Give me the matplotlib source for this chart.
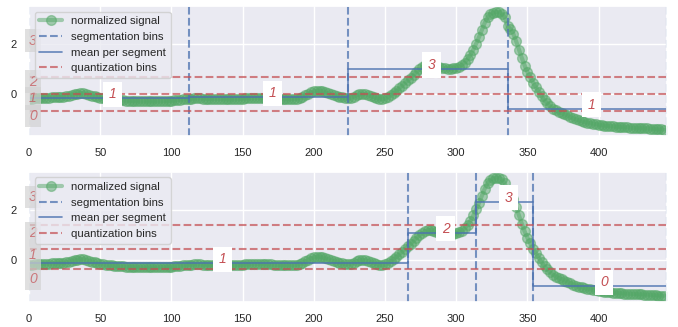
import numpy as np
import matplotlib
matplotlib.use("Agg")
import matplotlib.pyplot as plt
import seaborn as sns

# ---------------- data ----------------
n_samples = 448
sample_step = 2
signal = [
    -0.20, -0.19, -0.18, -0.17, -0.16, -0.16, -0.15, -0.15, -0.14, -0.14,   # 0-18
    -0.13, -0.13, -0.12, -0.10, -0.07, -0.05, -0.02, 0.01, 0.03, 0.03,      # 20-38
    0.01, -0.03, -0.07, -0.10, -0.13, -0.16, -0.18, -0.20, -0.21, -0.22,    # 40-58
    -0.24, -0.25, -0.26, -0.26, -0.27, -0.28, -0.28, -0.29, -0.29, -0.30,   # 60-78
    -0.30, -0.30, -0.30, -0.30, -0.30, -0.30, -0.29, -0.29, -0.28, -0.28,   # 80-98
    -0.27, -0.26, -0.24, -0.23, -0.22, -0.21, -0.20, -0.19, -0.18, -0.18,   # 100-118
    -0.18, -0.19, -0.19, -0.20, -0.20, -0.20, -0.20, -0.20, -0.21, -0.21,   # 120-138
    -0.22, -0.22, -0.22, -0.21, -0.20, -0.19, -0.18, -0.17, -0.17, -0.17,   # 140-158
    -0.16, -0.16, -0.16, -0.17, -0.17, -0.18, -0.19, -0.20, -0.20, -0.21,   # 160-178
    -0.21, -0.21, -0.21, -0.20, -0.19, -0.16, -0.12, -0.06, 0.00, 0.06,     # 180-198
    0.10, 0.13, 0.13, 0.11, 0.07, 0.03, -0.01, -0.05, -0.08, -0.11,         # 200-218
    -0.14, -0.16, -0.17, -0.15, -0.11, -0.06, -0.02, 0.00, -0.01, -0.04,    # 220-238
    -0.08, -0.12, -0.16, -0.19, -0.20, -0.18, -0.13, -0.05, 0.04, 0.13,     # 240-258
    0.23, 0.33, 0.44, 0.54, 0.65, 0.76, 0.88, 0.98, 1.07, 1.15,             # 260-278
    1.19, 1.20, 1.17, 1.12, 1.08, 1.05, 1.03, 1.02, 1.02, 1.03,             # 280-298
    1.06, 1.10, 1.17, 1.26, 1.40, 1.57, 1.78, 2.02, 2.28, 2.56,             # 300-318
    2.85, 3.08, 3.20, 3.26, 3.29, 3.29, 3.22, 3.08, 2.72, 2.60,             # 320-338
    2.42, 2.12, 1.78, 1.45, 1.14, 0.88, 0.66, 0.45, 0.26, 0.08,             # 340-358
    -0.10, -0.26, -0.38, -0.50, -0.59, -0.66, -0.72, -0.77, -0.82, -0.86,   # 360-378
    -0.92, -0.98, -1.02, -1.06, -1.09, -1.12, -1.15, -1.17, -1.19, -1.21,   # 380-398
    -1.23, -1.25, -1.27, -1.28, -1.29, -1.30, -1.31, -1.32, -1.33, -1.34,   # 400-418
    -1.34, -1.35, -1.36, -1.36, -1.37, -1.37, -1.38, -1.38, -1.39, -1.39,   # 420-438
    -1.41, -1.42, -1.42, -1.43,                                             # 440-446
]

top_bins = [0, 112, 224, 336, 448]
top_means = [-0.17, -0.13, 1.00, -0.59]
top_symbols = ["1", "1", "3", "1"]
top_quant = [-0.674, 0.0, 0.674]

bottom_bins = [0, 266, 314, 354, 448]
bottom_means = [-0.14, 1.09, 2.33, -1.05]
bottom_symbols = ["1", "2", "3", "0"]
bottom_quant = [-0.37, 0.42, 1.41]

quant_symbols = ["0", "1", "2", "3"]
xticks = [0, 50, 100, 150, 200, 250, 300, 350, 400]
yticks = [0, 2]

# ---------------- style ----------------
sns.set_theme(style="darkgrid")
plt.rcParams["font.family"] = ["Liberation Sans", "DejaVu Sans"]

GREEN = "#55A868"
BLUE = "#4C72B0"
RED = "#C44E52"

x = np.arange(0, n_samples, sample_step)
sig = np.array(signal)

fig = plt.figure(figsize=(6.78, 3.27), dpi=100)
ax_top = fig.add_axes([0.0428, 0.5856, 0.9410, 0.3961])
ax_bot = fig.add_axes([0.0428, 0.0774, 0.9410, 0.3975])


def draw(ax, bins, means, symbols, quant):
    ax.plot(x, sig, "-o", color=GREEN, alpha=0.5, ms=7, lw=3,
            label="normalized signal")
    for i, b in enumerate(bins):
        ax.axvline(b, color=BLUE, ls="--", lw=1.5, alpha=0.75,
                   label="segmentation bins" if i == 0 else None)
    ax.step(bins, list(means) + [means[-1]], where="post", color=BLUE,
            lw=1.2, alpha=0.85, label="mean per segment")
    for i, q in enumerate(quant):
        ax.axhline(q, color=RED, ls="--", lw=1.5, alpha=0.7,
                   label="quantization bins" if i == 0 else None)
    for i, s in enumerate(symbols):
        c = (bins[i] + bins[i + 1]) / 2
        ax.text(c, means[i], s, color=RED, fontsize=10, style="italic",
                bbox=dict(facecolor="white", edgecolor="none"))
    edges = [sig.min()] + list(quant) + [sig.max()]
    for k, s in enumerate(quant_symbols):
        ax.text(0, (edges[k] + edges[k + 1]) / 2, s, color=RED, alpha=0.7,
                fontsize=10, style="italic",
                bbox=dict(facecolor="lightgray", alpha=0.7, edgecolor="none",
                          pad=3))
    ax.set_xlim(0, n_samples)
    ax.set_xticks(xticks)
    ax.set_yticks(yticks)
    ax.tick_params(labelsize=8, pad=3)
    ax.legend(loc="upper left", fontsize=8.2)


draw(ax_top, top_bins, top_means, top_symbols, top_quant)
draw(ax_bot, bottom_bins, bottom_means, bottom_symbols, bottom_quant)

fig.savefig("out.png", dpi=100)
